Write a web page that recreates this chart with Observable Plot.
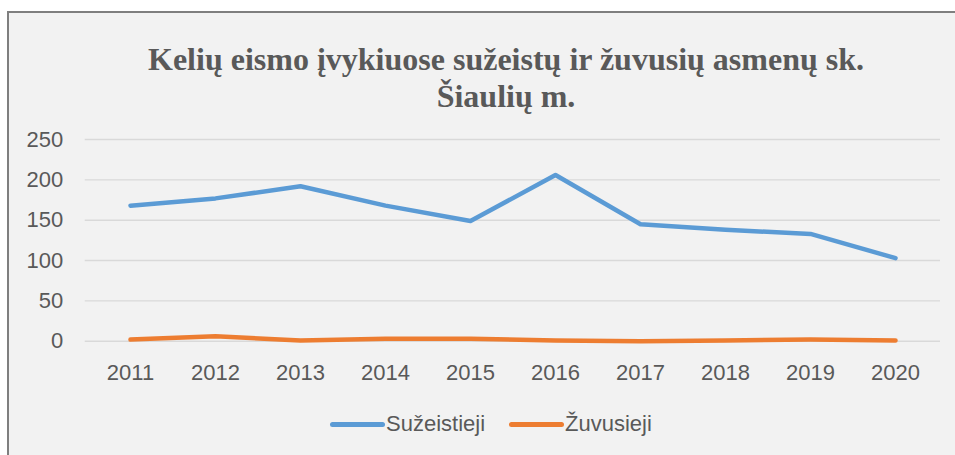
<!DOCTYPE html>
<html>
<head>
<meta charset="utf-8">
<script src="https://cdn.jsdelivr.net/npm/d3@7"></script>
<script src="https://cdn.jsdelivr.net/npm/@observablehq/plot@0.6"></script>
<style>
  html, body { margin: 0; padding: 0; background: #ffffff; width: 955px; height: 455px; overflow: hidden; }
  #frame { position: absolute; left: 7px; top: 11px; width: 1000px; height: 480px; background: #f2f2f2;
           border-top: 2px solid #7f7f7f; border-left: 2px solid #7f7f7f; }
  #title { position: absolute; left: 9px; width: 994px; top: 41px; text-align: center;
           font-family: "Liberation Serif", "Times New Roman", serif; font-weight: bold; font-size: 32px;
           line-height: 37px; color: #595959; }
  #chart { position: absolute; left: 0; top: 125px; }
  #legend { position: absolute; left: 330px; top: 411px; display: flex; align-items: center;
            font-family: "Liberation Sans", Arial, sans-serif; font-size: 22px; color: #595959; }
  .item { display: flex; align-items: center; margin-right: 24px; }
  .sw { width: 55px; height: 5px; border-radius: 3px; margin-right: 1px; }
</style>
</head>
<body>
<div id="frame"></div>
<div id="title">Kelių eismo įvykiuose sužeistų ir žuvusių asmenų sk.<br>Šiaulių m.</div>
<div id="chart"></div>
<div id="legend"></div>
<script>
const years = ["2011","2012","2013","2014","2015","2016","2017","2018","2019","2020"];
const suzeistieji = [168, 177, 192, 168, 149, 206, 145, 138, 133, 103];
const zuvusieji = [2, 6, 1, 3, 3, 1, 0, 1, 2, 1];
const seriesNames = ["Sužeistieji", "Žuvusieji"];
const seriesColors = ["#5b9bd5", "#ed7d31"];
const yTicks = [0, 50, 100, 150, 200, 250];

const rows = [];
years.forEach((y, i) => {
  rows.push({year: y, value: suzeistieji[i], series: seriesNames[0]});
  rows.push({year: y, value: zuvusieji[i], series: seriesNames[1]});
});

const chart = Plot.plot({
  width: 955,
  height: 265,
  marginLeft: 84.7,
  marginRight: 15,
  marginTop: 14,
  marginBottom: 49.3,
  style: { background: "transparent", fontFamily: "'Liberation Sans', Arial, sans-serif", fontSize: "22px", color: "#595959" },
  x: { type: "point", domain: years, padding: 0.5, label: null },
  y: { domain: [0, 250], label: null },
  color: { domain: seriesNames, range: seriesColors },
  marks: [
    Plot.ruleY(yTicks, { stroke: "#d9d9d9", strokeWidth: 1.4 }),
    Plot.axisY({ ticks: yTicks, tickSize: 0, tickPadding: 22, label: null, fill: "#595959" }),
    Plot.axisX({ tickSize: 0, tickPadding: 23, label: null, fill: "#595959" }),
    Plot.line(rows, { x: "year", y: "value", z: "series", stroke: "series", strokeWidth: 4.5, strokeLinecap: "round", strokeLinejoin: "round" })
  ]
});
document.getElementById("chart").appendChild(chart);

const legend = document.getElementById("legend");
seriesNames.forEach((name, i) => {
  const item = document.createElement("div");
  item.className = "item";
  const sw = document.createElement("div");
  sw.className = "sw";
  sw.style.background = seriesColors[i];
  const t = document.createElement("span");
  t.textContent = name;
  item.appendChild(sw);
  item.appendChild(t);
  legend.appendChild(item);
});
</script>
</body>
</html>
